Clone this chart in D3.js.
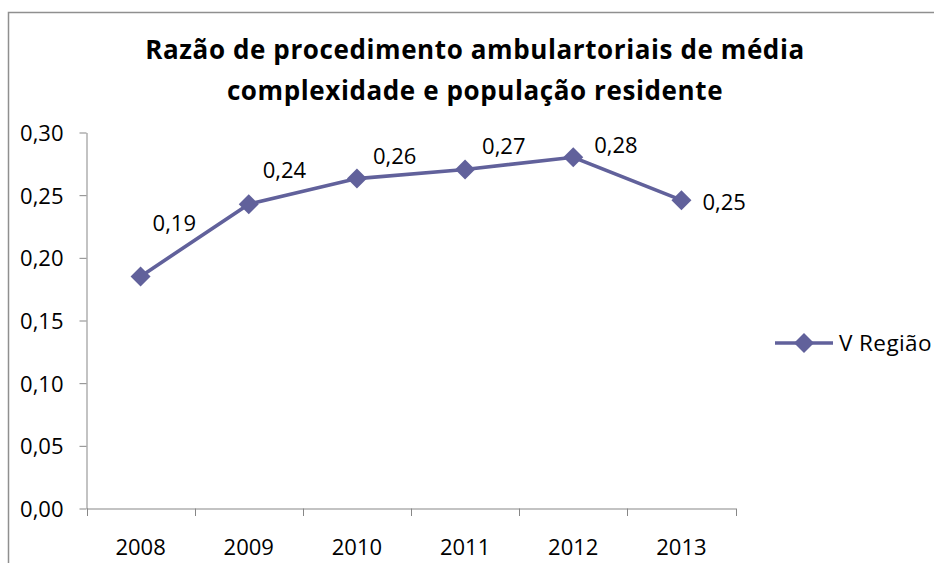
<!DOCTYPE html>
<html><head><meta charset="utf-8">
<script src="https://cdn.jsdelivr.net/npm/d3@7"></script>
<style>
html,body{margin:0;padding:0;background:#fff;}
text{font-family:"Open Sans",sans-serif;}
</style></head>
<body><svg id="c" width="934" height="563"></svg>
<script>
const categories = ["2008","2009","2010","2011","2012","2013"];
const seriesName = "V Região";
const values = [0.1852, 0.2428, 0.2632, 0.2705, 0.2802, 0.246];
const yTicks = [0, 0.05, 0.10, 0.15, 0.20, 0.25, 0.30];
const titleLines = ["Razão de procedimento ambulartoriais de média", "complexidade e população residente"];
// label offsets (layout only), in px relative to the marker
const labelOffset = [[12,-53],[14,-34],[16,-23],[17,-23],[21,-12],[21,2]];

const color = "#61619b";
const axisColor = "#878787";
const FONT = "'Open Sans',sans-serif";
const svg = d3.select("#c");

// outer frame
svg.append("path").attr("d","M8.5,563 V12.5 H934").attr("fill","none").attr("stroke","#8f8f8f").attr("stroke-width",1.5);

// title
svg.selectAll("text.title").data(titleLines).enter().append("text")
  .attr("x",475).attr("y",(d,i)=>59+i*41).attr("text-anchor","middle")
  .attr("font-size",26).attr("letter-spacing",0.6).attr("font-weight","bold").attr("fill","#000").text(d=>d);

const x = d3.scaleBand().domain(categories).range([86.5,735.5]);
const y = d3.scaleLinear().domain([0,0.30]).range([508.5,132.5]);
const fmt = v => d3.format(".2f")(v).replace(".",",");

// y axis
const ya = svg.append("g").attr("transform","translate(86.5,0)")
  .call(d3.axisLeft(y).tickValues(yTicks).tickSize(7).tickSizeOuter(0).tickFormat(fmt));
ya.select(".domain").attr("stroke",axisColor);
ya.selectAll(".tick line").attr("stroke",axisColor);
ya.selectAll("text").attr("font-size",22).attr("fill","#000").attr("font-family",FONT).attr("x",-23).attr("dy","0.36em").attr("text-anchor","end");

// x axis
const xa = svg.append("g").attr("transform","translate(0,508.5)")
  .call(d3.axisBottom(x).tickSize(0).tickSizeOuter(0));
xa.select(".domain").attr("stroke",axisColor);
xa.selectAll("text").attr("font-size",22).attr("fill","#000").attr("font-family",FONT).attr("dy",0).attr("y",46.5);
// category boundary ticks
const bounds = categories.map(c=>x(c)).concat([x(categories[categories.length-1])+x.bandwidth()]);
svg.append("g").selectAll("line").data(bounds).enter().append("line")
  .attr("x1",d=>Math.round(d)+0.5).attr("x2",d=>Math.round(d)+0.5).attr("y1",508.5).attr("y2",516)
  .attr("stroke",axisColor);

const cx = c => x(c)+x.bandwidth()/2;
const line = d3.line().x((d,i)=>cx(categories[i])).y(d=>y(d));
svg.append("path").datum(values).attr("d",line).attr("fill","none").attr("stroke",color).attr("stroke-width",3.6);

svg.selectAll("path.m").data(values).enter().append("path").attr("class","m")
  .attr("d", d3.symbol().type(d3.symbolSquare).size(200)())
  .attr("transform",(d,i)=>`translate(${cx(categories[i])},${y(d)}) rotate(45)`)
  .attr("fill",color);

svg.selectAll("text.lbl").data(values).enter().append("text").attr("class","lbl")
  .attr("x",(d,i)=>cx(categories[i])+labelOffset[i][0])
  .attr("y",(d,i)=>y(d)+labelOffset[i][1])
  .attr("dy","0.36em").attr("font-size",22).attr("fill","#000").text(d=>fmt(d));

// legend
const lg = svg.append("g").attr("transform","translate(775,343)");
lg.append("line").attr("x1",0).attr("x2",58).attr("stroke",color).attr("stroke-width",3.6);
lg.append("path").attr("d", d3.symbol().type(d3.symbolSquare).size(200)()).attr("transform","translate(29,0) rotate(45)").attr("fill",color);
lg.append("text").attr("x",64).attr("dy","0.36em").attr("font-size",22.5).attr("letter-spacing",0.4).attr("fill","#000").text(seriesName);
</script></body></html>
